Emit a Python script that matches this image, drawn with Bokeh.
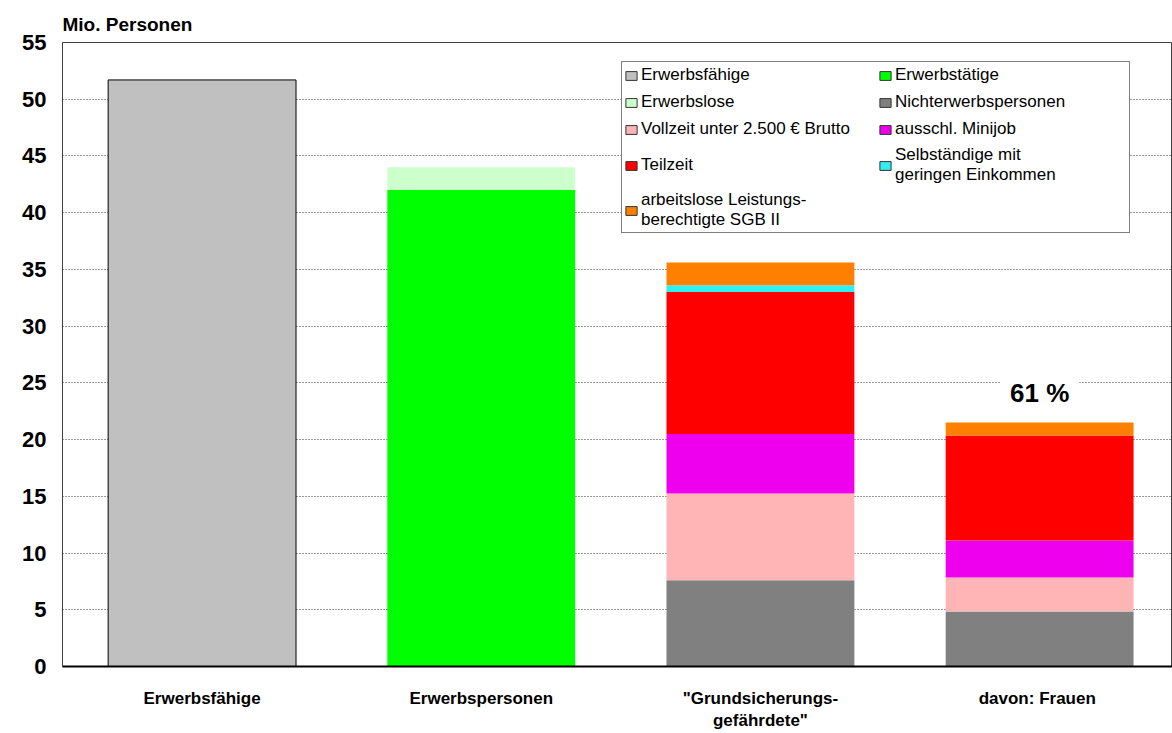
from bokeh.plotting import figure
from bokeh.models import Range1d, FixedTicker, Legend, LegendItem, Label, ColumnDataSource
from bokeh.embed import file_html
from bokeh.resources import INLINE

# ---- data ----
categories = ["Erwerbsfähige", "Erwerbspersonen", "\"Grundsicherungs-\ngefährdete\"", "davon:  Frauen"]
series_keys = ["faehige", "taetige", "lose", "nichterwerb", "vollzeit", "minijob", "teilzeit", "selbst", "arbeitslos"]
series_labels = ["Erwerbsfähige", "Erwerbstätige", "Erwerbslose", "Nichterwerbspersonen",
                 "Vollzeit unter 2.500 € Brutto", "ausschl. Minijob", "Teilzeit",
                 "Selbständige mit\ngeringen Einkommen", "arbeitslose Leistungs-\nberechtigte SGB II"]
erwerbsfaehige = [51.7, 0, 0, 0]
erwerbstaetige = [0, 42.0, 0, 0]
erwerbslose = [0, 2.0, 0, 0]
nichterwerbspersonen = [0, 0, 7.6, 4.85]
vollzeit_unter_2500 = [0, 0, 7.65, 3.0]
minijob = [0, 0, 5.25, 3.25]
teilzeit = [0, 0, 12.5, 9.25]
selbstaendige = [0, 0, 0.6, 0]
arbeitslose_sgb2 = [0, 0, 2.0, 1.15]
y_ticks = [0, 5, 10, 15, 20, 25, 30, 35, 40, 45, 50, 55]
share_women = "61 %"

colors = ["#C0C0C0", "#00FF00", "#CCFFCC", "#808080", "#FFB5B5", "#EE00EE", "#FF0000", "#33EEEE", "#FF8000"]
FONT = "Liberation Sans"

xs = [i + 0.5 for i in range(len(categories))]
source = ColumnDataSource(dict(
    x=xs, faehige=erwerbsfaehige, taetige=erwerbstaetige, lose=erwerbslose,
    nichterwerb=nichterwerbspersonen, vollzeit=vollzeit_unter_2500, minijob=minijob,
    teilzeit=teilzeit, selbst=selbstaendige, arbeitslos=arbeitslose_sgb2))

W, H = 1172, 733
p = figure(width=W, height=H, output_backend="svg", toolbar_location=None,
           x_range=Range1d(0, 3.976), y_range=Range1d(0, 55),
           min_border_left=62, min_border_right=0, min_border_top=42, min_border_bottom=67)
p.background_fill_color = "white"
p.border_fill_color = "white"
p.outline_line_color = "#404040"
p.outline_line_width = 1

line_alphas = [1] + [0] * (len(series_keys) - 1)
p.vbar_stack(series_keys, x="x", width=0.673, source=source,
             fill_color=colors, line_color="black", line_alpha=line_alphas)

# legend proxies (nothing drawn in the plot)
nan = float("nan")
items = []
for key, lab, c in zip(series_keys, series_labels, colors):
    r = p.vbar(x=[nan], top=[nan], width=0.5, fill_color=c, line_color="#333333")
    items.append(LegendItem(label=lab, renderers=[r]))

legend = Legend(items=items, location=(559, 433), orientation="horizontal", ncols=2,
                label_text_font=FONT, label_text_font_size="17px", label_text_color="black",
                label_text_line_height=1.3,
                glyph_width=14, glyph_height=11, label_standoff=3, label_width=232,
                label_height=22, spacing=5, padding=2, margin=0,
                border_line_color="black", border_line_width=1,
                background_fill_color="white", background_fill_alpha=1)
p.add_layout(legend)

# axes
p.xgrid.visible = False
p.ygrid.ticker = FixedTicker(ticks=y_ticks)
p.ygrid.grid_line_color = "#303030"
p.ygrid.grid_line_dash = "1 2"

p.yaxis.ticker = FixedTicker(ticks=y_ticks)
p.yaxis.major_tick_out = 0
p.yaxis.major_tick_in = 0
p.yaxis.minor_tick_line_color = None
p.yaxis.axis_line_color = "#404040"
p.yaxis.major_label_standoff = 16
p.yaxis.major_label_text_font = FONT
p.yaxis.major_label_text_font_size = "22px"
p.yaxis.major_label_text_font_style = "bold"
p.yaxis.major_label_text_color = "black"

p.xaxis.ticker = FixedTicker(ticks=xs)
p.xaxis.major_label_overrides = {x: c for x, c in zip(xs, categories)}
p.xaxis.major_tick_out = 0
p.xaxis.major_tick_in = 0
p.xaxis.minor_tick_line_color = None
p.xaxis.axis_line_color = "black"
p.xaxis.axis_line_width = 2
p.xaxis.major_label_standoff = 22
p.xaxis.major_label_text_font = FONT
p.xaxis.major_label_text_font_size = "17px"
p.xaxis.major_label_text_font_style = "bold"
p.xaxis.major_label_text_color = "black"

p.title.text = "Mio. Personen"
p.title.align = "left"
p.title.text_font = FONT
p.title.text_font_size = "19px"
p.title.text_font_style = "bold"
p.title.text_color = "black"
p.title.standoff = 16

lbl = Label(x=xs[3], y=24.1, text=share_women, text_align="center", text_baseline="middle",
            text_font=FONT, text_font_size="26px", text_font_style="bold", text_color="black",
            background_fill_color="white", background_fill_alpha=1, padding=10)
p.add_layout(lbl)

open("out.html", "w").write(file_html(p, INLINE))
